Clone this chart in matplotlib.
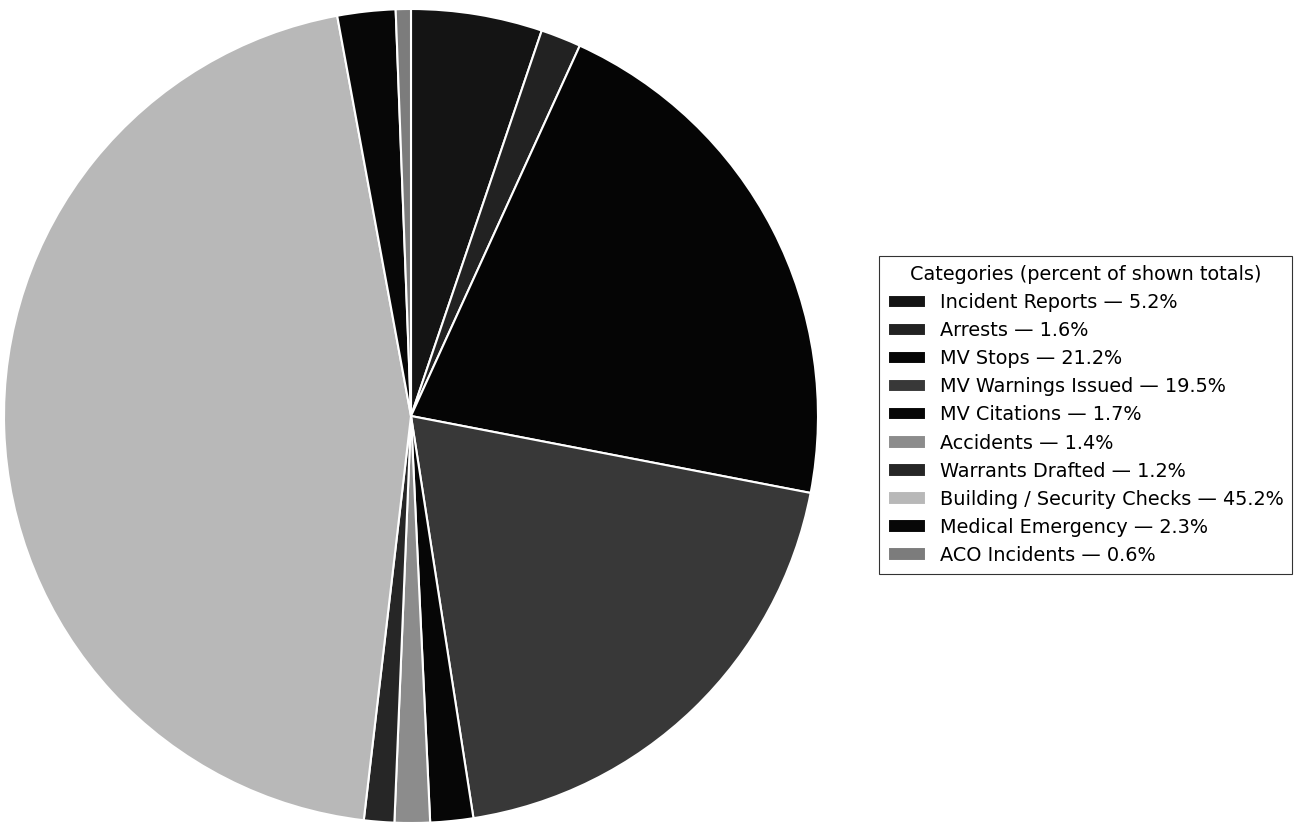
import matplotlib
matplotlib.use("Agg")
import matplotlib.pyplot as plt

categories = [
    "Incident Reports", "Arrests", "MV Stops", "MV Warnings Issued",
    "MV Citations", "Accidents", "Warrants Drafted",
    "Building / Security Checks", "Medical Emergency", "ACO Incidents",
]
percents = [5.2, 1.6, 21.2, 19.5, 1.7, 1.4, 1.2, 45.2, 2.3, 0.6]
colors = ["#141414", "#222222", "#050505", "#383838", "#060606",
          "#8c8c8c", "#262626", "#b8b8b8", "#070707", "#7c7c7c"]

fig = plt.figure(figsize=(12.94, 8.25), dpi=100)
# square axes box so the pie fills the left part of the page
ax = fig.add_axes([4 / 1294, 2 / 825, 814 / 1294, 814 / 825])

wedges, _ = ax.pie(
    percents, colors=colors, startangle=90, counterclock=False,
    radius=1.0, wedgeprops=dict(edgecolor="white", linewidth=1.5),
)
ax.set_xlim(-1.0, 1.0)
ax.set_ylim(-1.0, 1.0)
ax.set_aspect("equal")

labels = [f"{c} \u2014 {p:.1f}%" for c, p in zip(categories, percents)]
leg = fig.legend(
    wedges, labels, title="Categories (percent of shown totals)",
    loc="center left", bbox_to_anchor=(879 / 1294, 1 - 415 / 825),
    fontsize=13.9, title_fontsize=13.9, frameon=True, fancybox=False,
    edgecolor="black", labelspacing=0.47, borderpad=0.45,
    handletextpad=0.7, borderaxespad=0.0,
)
leg.get_frame().set_linewidth(0.8)

fig.savefig("out.png", dpi=100)
